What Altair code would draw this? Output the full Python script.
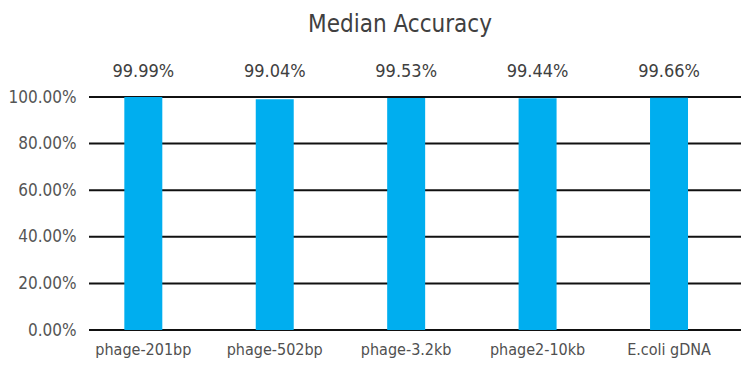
import altair as alt
import pandas as pd

categories = ["phage-201bp", "phage-502bp", "phage-3.2kb", "phage2-10kb", "E.coli gDNA"]
accuracy = [99.99, 99.04, 99.53, 99.44, 99.66]
labels = ["99.99%", "99.04%", "99.53%", "99.44%", "99.66%"]
y_ticks = [0, 20, 40, 60, 80, 100]

df = pd.DataFrame({"cat": categories, "acc": accuracy, "label": labels})
grid_df = pd.DataFrame({"v": y_ticks})

FONT = "DejaVu Sans Condensed"
TXT = "#404040"

x = alt.X("cat:N", sort=categories,
          scale=alt.Scale(paddingInner=0.711, paddingOuter=0.336, align=0.40),
          axis=alt.Axis(title=None, labelAngle=0, domain=False, ticks=False, grid=False,
                        labelFont=FONT, labelFontSize=16, labelColor="#505050", labelPadding=11))
y = alt.Y("acc:Q", scale=alt.Scale(domain=[0, 100]),
          axis=alt.Axis(title=None, values=y_ticks, labelExpr="format(datum.value, '.2f') + '%'",
                        domain=False, ticks=False, grid=False,
                        labelFont=FONT, labelFontSize=17, labelColor="#555555",
                        labelPadding=13))

grid = alt.Chart(grid_df).mark_rule(color="#111111", strokeWidth=2).encode(
    y=alt.Y("v:Q"))

bars = alt.Chart(df).mark_bar(color="#00AEEF").encode(x=x, y=y)

vals = alt.Chart(df).mark_text(font=FONT, fontSize=18, color=TXT, baseline="middle").encode(
    x=alt.X("cat:N", sort=categories), y=alt.value(-25), text="label:N")

title = alt.Chart(pd.DataFrame({"t": ["Median Accuracy"]})).mark_text(
    font=FONT, fontSize=24, color=TXT, baseline="middle").encode(
    x=alt.value(311), y=alt.value(-72), text="t:N")

chart = alt.layer(grid, bars, vals, title).properties(
    width=652, height=233,
    autosize=alt.AutoSizeParams(type="none"),
    padding={"left": 89, "top": 97, "right": 14, "bottom": 54},
).configure_view(stroke=None)

chart.save("out.html", embed_options={"renderer": "svg", "actions": False})
